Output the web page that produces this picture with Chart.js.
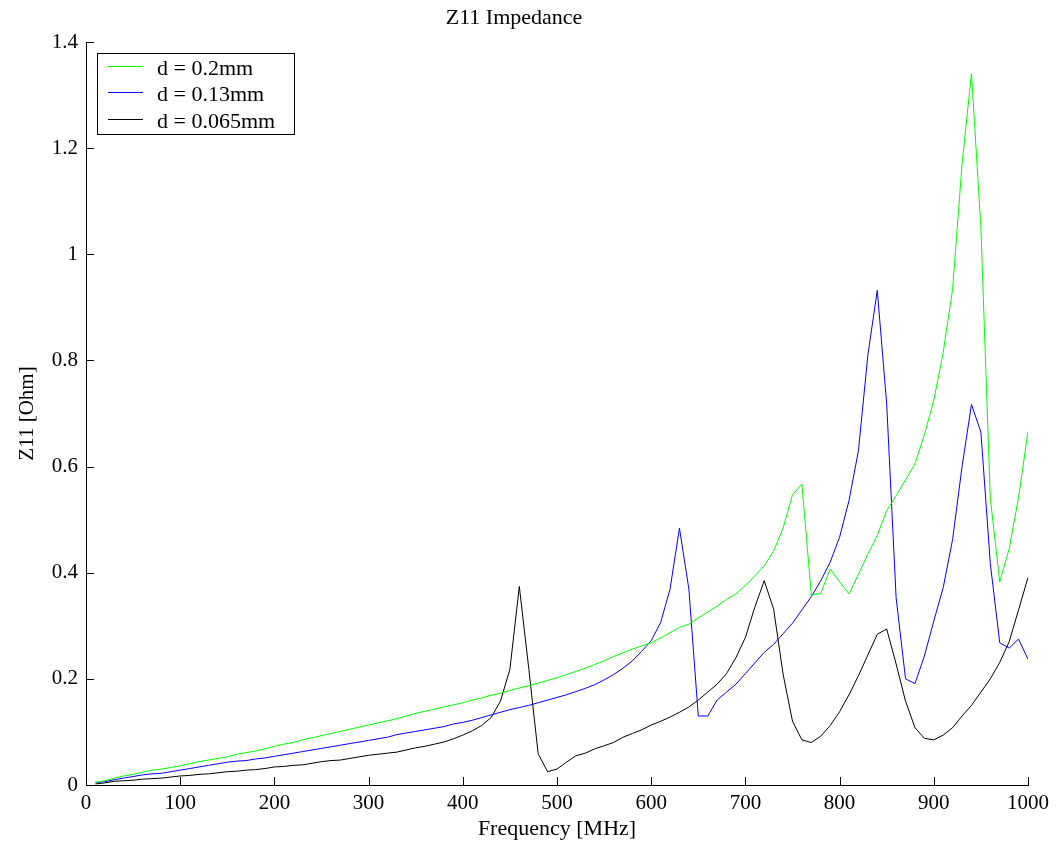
<!DOCTYPE html>
<html lang="en">

<head>
  <meta charset="UTF-8">
  <title>Z11 Impedance</title>
  <style>
    html, body { margin: 0; padding: 0; background: #fff; }
    #wrap { width: 1058px; height: 843px; }
  </style>
</head>

<body>
  <div id="wrap"><canvas id="myChart" width="1058" height="843"></canvas></div>
  <script src="https://cdn.jsdelivr.net/npm/chart.js"></script>
  <script>
    // frequency points [MHz]
    const freq = [10, 20, 30, 40, 50, 60, 70, 80, 90, 100,
      110, 120, 130, 140, 150, 160, 170, 180, 190, 200,
      210, 220, 230, 240, 250, 260, 270, 280, 290, 300,
      310, 320, 330, 340, 350, 360, 370, 380, 390, 400,
      410, 420, 430, 440, 450, 460, 470, 480, 490, 500,
      510, 520, 530, 540, 550, 560, 570, 580, 590, 600,
      610, 620, 630, 640, 650, 660, 670, 680, 690, 700,
      710, 720, 730, 740, 750, 760, 770, 780, 790, 800,
      810, 820, 830, 840, 850, 860, 870, 880, 890, 900,
      910, 920, 930, 940, 950, 960, 970, 980, 990, 1000];

    // d = 0.2mm
    const z_020 = [0.005, 0.008, 0.013, 0.017, 0.020, 0.024, 0.028, 0.030, 0.033, 0.036,
      0.040, 0.044, 0.047, 0.050, 0.053, 0.058, 0.061, 0.064, 0.068, 0.073,
      0.077, 0.080, 0.085, 0.089, 0.093, 0.097, 0.101, 0.105, 0.109, 0.113,
      0.117, 0.121, 0.125, 0.130, 0.135, 0.139, 0.143, 0.147, 0.151, 0.155,
      0.160, 0.164, 0.169, 0.173, 0.178, 0.183, 0.187, 0.192, 0.197, 0.202,
      0.208, 0.214, 0.220, 0.227, 0.234, 0.242, 0.249, 0.256, 0.262, 0.268,
      0.277, 0.287, 0.297, 0.303, 0.315, 0.326, 0.337, 0.350, 0.360, 0.376,
      0.394, 0.413, 0.441, 0.484, 0.547, 0.567, 0.358, 0.361, 0.407, 0.383,
      0.360, 0.397, 0.435, 0.470, 0.517, 0.545, 0.575, 0.605, 0.660, 0.725,
      0.815, 0.935, 1.170, 1.341, 1.050, 0.540, 0.383, 0.445, 0.542, 0.666];

    // d = 0.13mm
    const z_013 = [0.005, 0.006, 0.010, 0.013, 0.016, 0.019, 0.021, 0.022, 0.025, 0.028,
      0.031, 0.034, 0.037, 0.040, 0.043, 0.045, 0.046, 0.049, 0.051, 0.054,
      0.057, 0.060, 0.063, 0.066, 0.069, 0.072, 0.075, 0.078, 0.081, 0.084,
      0.087, 0.090, 0.095, 0.098, 0.101, 0.104, 0.107, 0.110, 0.115, 0.118,
      0.122, 0.127, 0.132, 0.137, 0.142, 0.146, 0.150, 0.155, 0.160, 0.165,
      0.170, 0.176, 0.182, 0.189, 0.198, 0.208, 0.220, 0.234, 0.252, 0.272,
      0.306, 0.369, 0.484, 0.369, 0.130, 0.130, 0.160, 0.175, 0.190, 0.210,
      0.230, 0.250, 0.265, 0.285, 0.305, 0.330, 0.355, 0.385, 0.420, 0.467,
      0.536, 0.630, 0.810, 0.932, 0.718, 0.353, 0.200, 0.191, 0.243, 0.309,
      0.372, 0.463, 0.600, 0.717, 0.665, 0.417, 0.268, 0.258, 0.275, 0.237];

    // d = 0.065mm
    const z_0065 = [0.002, 0.004, 0.007, 0.008, 0.009, 0.011, 0.012, 0.013, 0.015, 0.017,
      0.018, 0.020, 0.021, 0.023, 0.025, 0.026, 0.028, 0.029, 0.031, 0.034,
      0.035, 0.037, 0.038, 0.041, 0.044, 0.046, 0.047, 0.050, 0.053, 0.056,
      0.058, 0.060, 0.062, 0.066, 0.070, 0.073, 0.077, 0.081, 0.087, 0.094,
      0.102, 0.112, 0.127, 0.158, 0.218, 0.374, 0.220, 0.059, 0.025, 0.030,
      0.043, 0.055, 0.060, 0.068, 0.074, 0.080, 0.090, 0.097, 0.104, 0.113,
      0.120, 0.128, 0.137, 0.147, 0.160, 0.175, 0.190, 0.210, 0.240, 0.278,
      0.335, 0.385, 0.331, 0.209, 0.120, 0.085, 0.080, 0.092, 0.112, 0.138,
      0.170, 0.206, 0.245, 0.284, 0.294, 0.228, 0.158, 0.108, 0.088, 0.085,
      0.094, 0.108, 0.130, 0.150, 0.175, 0.200, 0.231, 0.270, 0.330, 0.391];

    const serif = 'Liberation Serif';

    function pts(vals) {
      return freq.map((f, i) => ({ x: f, y: vals[i] }));
    }

    // small inward tick marks on left and bottom axes
    const innerTicks = {
      id: 'innerTicks',
      afterDraw(chart) {
        const c = chart.ctx, a = chart.chartArea;
        const xs = chart.scales.x, ys = chart.scales.y;
        c.save();
        c.strokeStyle = '#000';
        c.lineWidth = 1;
        c.beginPath();
        xs.ticks.forEach(t => {
          const px = Math.round(xs.getPixelForValue(t.value)) + 0.5;
          c.moveTo(px, a.bottom);
          c.lineTo(px, a.bottom - 8);
        });
        ys.ticks.forEach(t => {
          const py = Math.round(ys.getPixelForValue(t.value)) + 0.5;
          c.moveTo(a.left, py);
          c.lineTo(a.left + 8, py);
        });
        c.stroke();
        c.restore();
      }
    };

    // boxed legend in the upper left corner
    const boxLegend = {
      id: 'boxLegend',
      afterDraw(chart) {
        const c = chart.ctx;
        const bx = 97, by = 53, bw = 197, bh = 81;
        c.save();
        c.fillStyle = '#fff';
        c.fillRect(bx, by, bw, bh);
        c.strokeStyle = '#000';
        c.lineWidth = 1;
        c.strokeRect(bx + 0.5, by + 0.5, bw, bh);
        c.font = '22px "' + serif + '"';
        c.textBaseline = 'alphabetic';
        chart.data.datasets.forEach((ds, i) => {
          const y = 66 + i * 26.3;
          c.strokeStyle = ds.borderColor;
          c.beginPath();
          c.moveTo(108, Math.round(y) + 0.5);
          c.lineTo(143, Math.round(y) + 0.5);
          c.stroke();
          c.fillStyle = '#000';
          c.fillText(ds.label, 157, y + 9);
        });
        c.restore();
      }
    };

    const ctx = document.getElementById('myChart');

    let obj = new Chart(ctx, {
      type: 'line',
      data: {
        datasets: [{
          label: 'd = 0.2mm',
          data: pts(z_020),
          borderColor: '#00ff00',
          borderWidth: 1,
          pointRadius: 0,
          tension: 0
        }, {
          label: 'd = 0.13mm',
          data: pts(z_013),
          borderColor: '#0000ff',
          borderWidth: 1,
          pointRadius: 0,
          tension: 0
        }, {
          label: 'd = 0.065mm',
          data: pts(z_0065),
          borderColor: '#000000',
          borderWidth: 1,
          pointRadius: 0,
          tension: 0
        }]
      },
      options: {
        responsive: false,
        animation: false,
        layout: { padding: { left: 0, right: 30, top: 0, bottom: 0 } },
        plugins: {
          legend: { display: false },
          tooltip: { enabled: false },
          title: {
            display: true,
            text: 'Z11 Impedance',
            color: '#000',
            font: { family: serif, size: 22, weight: 'normal', lineHeight: 1.2 },
            padding: { top: 5, bottom: 10.6 }
          }
        },
        scales: {
          x: {
            type: 'linear',
            min: 0,
            max: 1000,
            afterFit: s => { s.height = 58; },
            ticks: {
              stepSize: 100,
              color: '#000',
              padding: 6,
              maxRotation: 0,
              font: { family: serif, size: 21 },
              callback: v => String(v)
            },
            grid: { drawOnChartArea: false, drawTicks: false },
            border: { display: true, color: '#000', width: 1 },
            title: {
              display: true,
              text: 'Frequency [MHz]',
              color: '#000',
              font: { family: serif, size: 22, lineHeight: 1.2 },
              padding: { top: 0, bottom: 1 }
            }
          },
          y: {
            min: 0,
            max: 1.4,
            afterFit: s => { s.width = 86; },
            ticks: {
              stepSize: 0.2,
              color: '#000',
              padding: 8,
              font: { family: serif, size: 21 },
              callback: v => String(Math.round(v * 10) / 10)
            },
            grid: { drawOnChartArea: false, drawTicks: false },
            border: { display: true, color: '#000', width: 1 },
            title: {
              display: true,
              text: 'Z11 [Ohm]',
              color: '#000',
              font: { family: serif, size: 21, lineHeight: 1.2 },
              padding: { top: 15, bottom: 0 }
            }
          }
        }
      },
      plugins: [innerTicks, boxLegend]
    });
  </script>
</body>

</html>
